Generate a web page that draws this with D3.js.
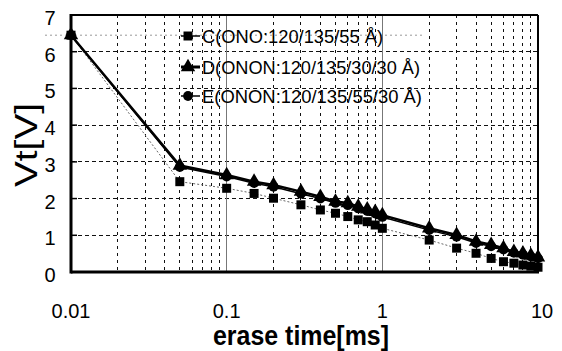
<!DOCTYPE html>
<html>
<head>
<meta charset="utf-8">
<script src="https://cdn.jsdelivr.net/npm/d3@7"></script>
<style>
body { margin:0; background:#fff; }
svg { display:block; font-family:"Liberation Sans", Arial, sans-serif; }
</style>
</head>
<body>
<div id="chart"></div>
<script>
// erase time [ms]
var times = [0.01,0.05,0.1,0.15,0.2,0.3,0.4,0.5,0.6,0.7,0.8,0.9,1,2,3,4,5,6,7,8,9,10];
// Vt [V]
var vtC = [6.45,2.46,2.28,2.14,2.01,1.83,1.69,1.60,1.51,1.42,1.37,1.28,1.19,0.87,0.65,0.51,0.37,0.28,0.24,0.19,0.16,0.13];
var vtD = [6.45,2.90,2.64,2.46,2.37,2.19,2.05,1.92,1.88,1.78,1.71,1.64,1.55,1.19,1.01,0.83,0.74,0.65,0.55,0.51,0.45,0.40];
var vtE = [6.45,2.86,2.60,2.42,2.32,2.13,2.00,1.88,1.82,1.73,1.66,1.59,1.50,1.14,0.96,0.79,0.70,0.61,0.52,0.47,0.42,0.37];
var seriesNames = ["C(ONO:120/135/55 \u00c5)", "D(ONON:120/135/30/30 \u00c5)", "E(ONON:120/135/55/30 \u00c5)"];
var xTicks = [0.01,0.1,1,10];
var xTickLabels = ["0.01","0.1","1","10"];
var yTicks = [0,1,2,3,4,5,6,7];

var width = 562, height = 351;
var marginLeft = 71, marginRight = 24, marginTop = 15, marginBottom = 79;

var svg = d3.select("#chart").append("svg").attr("width",width).attr("height",height);

var xScale = d3.scaleLog().domain([0.01,10]).range([marginLeft, width-marginRight]);
var yScale = d3.scaleLinear().domain([0,7]).range([height-marginBottom, marginTop]);
var x0 = xScale.range()[0], x1 = xScale.range()[1];
var y0 = yScale.range()[0], y1 = yScale.range()[1];

//grid horizontal
svg.append("g").selectAll("line").data(yTicks.filter(function(d){return d>0 && d<7;})).enter()
    .append("line")
    .attr("x1",x0).attr("x2",x1)
    .attr("y1",function(d){return yScale(d);})
    .attr("y2",function(d){return yScale(d);})
    .style("shape-rendering","crispEdges")
    .attr("stroke","#111").attr("stroke-width",1).attr("stroke-dasharray","4,3");

//grid vertical (minor)
var minor = [];
[0.01,0.1,1].forEach(function(dec){ for(var k=2;k<10;k++) minor.push(dec*k); });
svg.append("g").selectAll("line").data(minor).enter()
    .append("line")
    .attr("x1",function(d){return xScale(d);})
    .attr("x2",function(d){return xScale(d);})
    .attr("y1",y1).attr("y2",y0)
    .style("shape-rendering","crispEdges")
    .attr("stroke","#111").attr("stroke-width",1).attr("stroke-dasharray","3,4");

//grid vertical (major)
svg.append("g").selectAll("line").data([0.1,1]).enter()
    .append("line")
    .attr("x1",function(d){return xScale(d);})
    .attr("x2",function(d){return xScale(d);})
    .attr("y1",y1).attr("y2",y0)
    .style("shape-rendering","crispEdges")
    .attr("stroke","#777").attr("stroke-width",1);

//faint dotted line at the starting level
svg.append("line")
    .attr("x1",45).attr("x2",425)
    .attr("y1",yScale(vtD[0])).attr("y2",yScale(vtD[0]))
    .attr("stroke","#999").attr("stroke-width",1).attr("stroke-dasharray","2,3");

//frame
svg.append("line").attr("x1",x0).attr("x2",x1).attr("y1",y1).attr("y2",y1)
    .attr("stroke","#000").attr("stroke-width",2);
svg.append("line").attr("x1",x1).attr("x2",x1).attr("y1",y1).attr("y2",y0)
    .attr("stroke","#000").attr("stroke-width",2);
svg.append("line").attr("x1",x0).attr("x2",x1+1).attr("y1",y0).attr("y2",y0)
    .attr("stroke","#000").attr("stroke-width",3);
svg.append("line").attr("x1",x0).attr("x2",x0).attr("y1",y1-1).attr("y2",y0+1.5)
    .attr("stroke","#000").attr("stroke-width",3);

//y ticks
svg.append("g").selectAll("line").data(yTicks).enter()
    .append("line")
    .attr("x1",x0).attr("x2",x0+6)
    .attr("y1",function(d){return yScale(d);})
    .attr("y2",function(d){return yScale(d);})
    .attr("stroke","#000").attr("stroke-width",1.5);

svg.append("g").selectAll("text").data(yTicks).enter()
    .append("text")
    .attr("x",50)
    .attr("y",function(d){return yScale(d)+10;})
    .attr("text-anchor","middle")
    .attr("font-size","20px")
    .attr("fill","#000")
    .text(function(d){return d;});

svg.append("g").selectAll("text").data(xTicks).enter()
    .append("text")
    .attr("x",function(d){return xScale(d)+ (d==10?4:0);})
    .attr("y",318)
    .attr("text-anchor","middle")
    .attr("font-size","20px")
    .attr("fill","#000")
    .text(function(d,i){return xTickLabels[i];});

//axis titles
svg.append("text")
    .attr("x",213).attr("y",345)
    .attr("font-size","27px")
    .attr("font-weight","bold")
    .attr("textLength",176).attr("lengthAdjust","spacingAndGlyphs")
    .attr("fill","#000")
    .text("erase time[ms]");

svg.append("text")
    .attr("transform","translate(37,145) rotate(-90)")
    .attr("text-anchor","middle")
    .attr("font-size","31px")
    .attr("textLength",84).attr("lengthAdjust","spacingAndGlyphs")
    .attr("fill","#000")
    .text("Vt[V]");

//series
var line = d3.line()
    .x(function(d){return xScale(d[0]);})
    .y(function(d){return yScale(d[1]);});
function pairs(vals){ return times.map(function(t,i){return [t,vals[i]];}); }

svg.append("path").datum(pairs(vtC)).attr("d",line)
    .attr("fill","none").attr("stroke","#666").attr("stroke-width",1).attr("stroke-dasharray","2,2");
svg.append("path").datum(pairs(vtE)).attr("d",line)
    .attr("fill","none").attr("stroke","#000").attr("stroke-width",1.5);
svg.append("path").datum(pairs(vtD)).attr("d",line)
    .attr("fill","none").attr("stroke","#000").attr("stroke-width",2.5);

var sq = d3.symbol().type(d3.symbolSquare).size(81);
var tri = d3.symbol().type(d3.symbolTriangle).size(90);
var circ = d3.symbol().type(d3.symbolCircle).size(75);

function drawMarkers(vals, sym){
    svg.append("g").selectAll("path").data(pairs(vals)).enter()
        .append("path")
        .attr("d",sym)
        .attr("fill","#000")
        .attr("transform",function(d){return "translate("+xScale(d[0])+","+yScale(d[1])+")";});
}
drawMarkers(vtC, sq);
drawMarkers(vtE, circ);
drawMarkers(vtD, tri);

//legend
var legY = [36,67,96];
var legSyms = [sq,tri,circ];
var legLen = [181,218,220];
var legG = svg.append("g");
legY.forEach(function(yy,i){
    legG.append("line").attr("x1",181).attr("x2",200).attr("y1",yy).attr("y2",yy)
        .attr("stroke","#000").attr("stroke-width",i==1?3:1.5);
    legG.append("path").attr("d",legSyms[i]).attr("fill","#000")
        .attr("transform","translate(188,"+yy+")");
    legG.append("text").attr("x",202).attr("y",yy+7)
        .attr("font-size","19px")
        .attr("textLength",legLen[i]).attr("lengthAdjust","spacingAndGlyphs")
        .attr("fill","#000")
        .text(seriesNames[i]);
});
</script>
</body>
</html>
